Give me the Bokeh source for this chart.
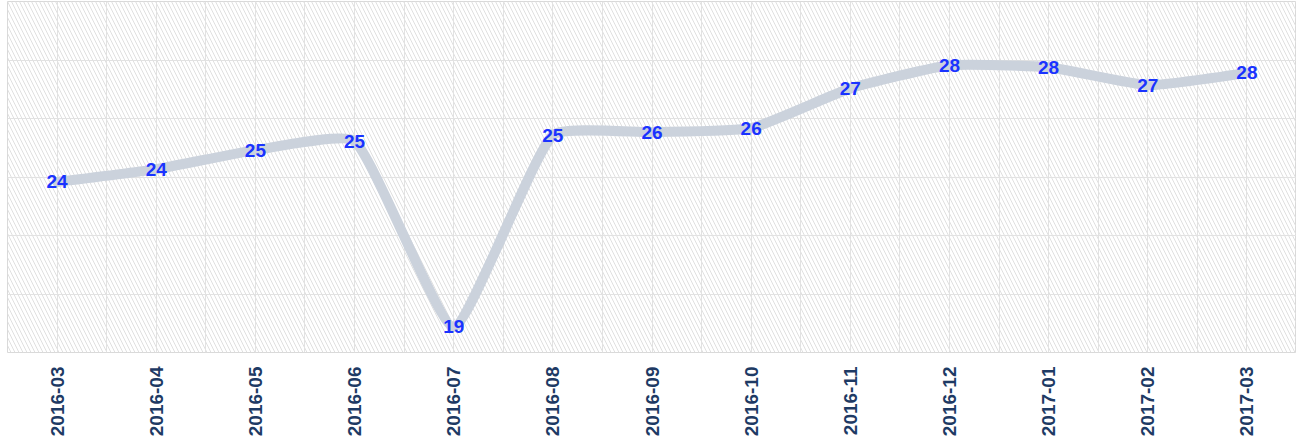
import numpy as np
from bokeh.plotting import figure
from bokeh.models import (Range1d, FixedTicker, SingleIntervalTicker, BoxAnnotation,
                          ColumnDataSource)
from bokeh.core.properties import value
from bokeh.embed import file_html
from bokeh.resources import INLINE

# ---- data ----
months = ["2016-03", "2016-04", "2016-05", "2016-06", "2016-07", "2016-08", "2016-09",
          "2016-10", "2016-11", "2016-12", "2017-01", "2017-02", "2017-03"]
values = [23.83, 24.27, 24.92, 25.23, 18.88, 25.43, 25.53, 25.67, 27.03, 27.82, 27.75, 27.14, 27.56]
y_min, y_max, y_step = 18, 30, 2

FRAME_W, FRAME_H = 1289, 351
xs = list(range(len(months)))

p = figure(frame_width=FRAME_W, frame_height=FRAME_H, output_backend="svg",
           toolbar_location=None, x_range=Range1d(-0.5, len(months) - 0.5),
           y_range=Range1d(y_min, y_max),
           min_border_left=7, min_border_right=0, min_border_top=1, min_border_bottom=0)
p.background_fill_color = "white"
p.border_fill_color = "white"
p.outline_line_color = "#d9d9d9"
p.outline_line_width = 1

# hatched background
hatch = BoxAnnotation(fill_color=None, fill_alpha=0, line_color=None,
                      hatch_pattern="\\", hatch_color="#e0e0e0", hatch_scale=8,
                      hatch_weight=1, level="image")
p.add_layout(hatch)

# grids
p.xgrid.ticker = SingleIntervalTicker(interval=0.5)
p.ygrid.ticker = SingleIntervalTicker(interval=y_step)
p.xgrid.grid_line_color = "#e2e2e2"
p.ygrid.grid_line_color = "#e2e2e2"
p.xgrid.grid_line_width = 1
p.ygrid.grid_line_width = 1

# axes
p.yaxis.visible = False
xa = p.xaxis[0]
xa.ticker = FixedTicker(ticks=xs)
xa.major_label_overrides = {i: m for i, m in enumerate(months)}
xa.major_label_orientation = np.pi / 2
xa.major_label_text_font = "Liberation Sans"
xa.major_label_text_font_style = "bold"
xa.major_label_text_font_size = "19px"
xa.major_label_text_color = "#1e3a64"
xa.major_label_standoff = 14
xa.major_tick_in = 0
xa.major_tick_out = 0
xa.minor_tick_in = 0
xa.minor_tick_out = 0
xa.axis_line_color = None

# smooth curve (ECharts-like control points computed from the data)
sx = FRAME_W / len(months)
sy = FRAME_H / (y_max - y_min)
smooth = 0.15
P = np.array([[x * sx, v * sy] for x, v in zip(xs, values)])
n = len(P)
cpa, cpb = [], []  # control before / after each point
for i in range(n):
    if i == 0 or i == n - 1:
        cpa.append(P[i]); cpb.append(P[i]); continue
    prev, nxt = P[i - 1], P[i + 1]
    v = (nxt - prev) * smooth
    d0 = np.linalg.norm(P[i] - prev)
    d1 = np.linalg.norm(nxt - P[i])
    s = d0 + d1
    cpa.append(P[i] - v * d0 / s)
    cpb.append(P[i] + v * d1 / s)
cpa = np.array(cpa); cpb = np.array(cpb)
src = ColumnDataSource(dict(
    x0=[xs[i] for i in range(n - 1)], y0=[values[i] for i in range(n - 1)],
    x1=[xs[i + 1] for i in range(n - 1)], y1=[values[i + 1] for i in range(n - 1)],
    cx0=list(cpb[:-1, 0] / sx), cy0=list(cpb[:-1, 1] / sy),
    cx1=list(cpa[1:, 0] / sx), cy1=list(cpa[1:, 1] / sy)))
p.bezier(x0="x0", y0="y0", x1="x1", y1="y1", cx0="cx0", cy0="cy0", cx1="cx1", cy1="cy1",
         source=src, line_color="#cbd2dc", line_width=10, line_cap="round")

# value labels
labels = [str(int(np.floor(v + 0.5))) for v in values]
p.text(x=xs, y=values, text=labels, text_align="center", text_baseline="middle",
       text_font=value("Liberation Sans"), text_font_style="bold",
       text_font_size="19px", text_color="#1a33ff")

open("out.html", "w").write(file_html(p, INLINE))
